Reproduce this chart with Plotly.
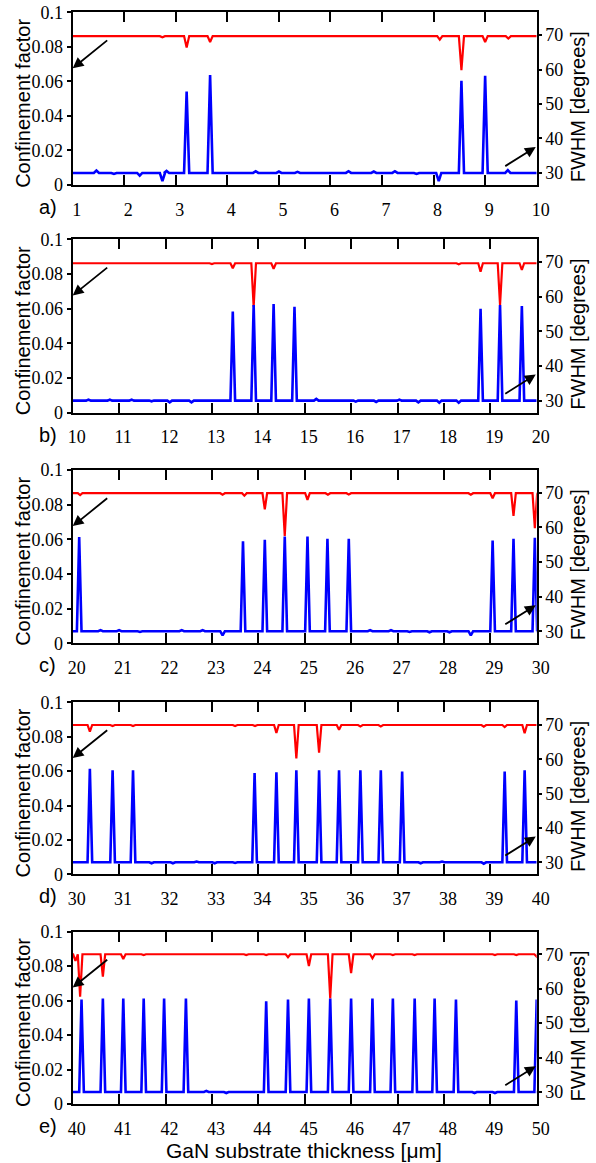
import plotly.graph_objects as go

# ---------------- data ----------------
X_RANGES = [(1, 10), (10, 20), (20, 30), (30, 40), (40, 50)]
PANEL_LABELS = ["a)", "b)", "c)", "d)", "e)"]
CF_TICKS = [0, 0.02, 0.04, 0.06, 0.08, 0.1]
CF_TICKTEXT = ["0", "0.02", "0.04", "0.06", "0.08", "0.1"]
FWHM_TICKS = [30, 40, 50, 60, 70]

CF_BASE = [0.0862, 0.0862, 0.0866, 0.0868, 0.0869]
FWHM_BASE = [30.0, 30.0, 30.0, 30.0, 30.0]

# panel a
A_FWHM_X = [1.46, 1.8, 2.3, 2.74, 2.82, 3.21, 3.665, 4.55, 5.0, 5.36, 6.35, 6.84, 7.25, 7.67, 8.1, 8.54, 9.0, 9.44]
A_FWHM_Y = [30.7, 29.7, 29.2, 27.6, 30.6, 53.6, 58.4, 30.5, 30.4, 30.3, 30.5, 30.4, 30.5, 29.7, 27.6, 56.7, 58.2, 30.8]
A_CF_X = [2.74, 3.21, 3.665, 8.12, 8.54, 9.0, 9.45]
A_CF_Y = [0.0855, 0.0796, 0.0828, 0.0842, 0.0665, 0.0828, 0.0848]

# panel b
B_FWHM_X = [10.34, 10.8, 11.27, 11.7, 12.09, 12.56, 13.45, 13.9, 14.33, 14.78, 15.25, 16.1, 16.54, 17.04, 17.45, 17.9, 18.32, 18.79, 19.21, 19.68]
B_FWHM_Y = [30.3, 30.3, 30.3, 29.8, 29.5, 29.5, 55.7, 57.6, 57.9, 57.1, 30.5, 29.7, 29.6, 30.3, 29.5, 29.4, 29.4, 56.5, 57.6, 57.3]
B_CF_X = [13.0, 13.45, 13.9, 14.33, 18.32, 18.79, 19.21, 19.68]
B_CF_Y = [0.0857, 0.0833, 0.0611, 0.0830, 0.0856, 0.0813, 0.0621, 0.0823]

# panel c
C_FWHM_X = [20.14, 20.6, 21.0, 21.45, 21.88, 22.35, 22.8, 23.23, 23.67, 24.14, 24.57, 25.06, 25.49, 25.95, 26.41, 26.86, 27.26, 27.69, 28.12, 28.58, 29.05, 29.5, 29.96]
C_FWHM_Y = [57.2, 30.3, 30.3, 29.8, 29.8, 30.3, 30.3, 28.8, 56.0, 56.4, 57.4, 57.4, 56.7, 56.7, 30.3, 30.3, 29.8, 29.7, 29.7, 28.8, 56.2, 56.7, 57.0]
C_CF_X = [20.16, 23.23, 23.7, 24.14, 24.57, 25.06, 25.5, 25.95, 28.58, 29.05, 29.5, 29.96]
C_CF_Y = [0.0855, 0.0858, 0.0852, 0.0773, 0.0619, 0.0827, 0.0857, 0.0859, 0.0857, 0.0837, 0.0735, 0.0664]

# panel d
D_FWHM_X = [30.37, 30.86, 31.3, 31.7, 32.16, 32.67, 33.06, 33.5, 33.92, 34.39, 34.82, 35.31, 35.74, 36.2, 36.64, 37.1, 37.5, 37.96, 38.43, 38.86, 39.31, 39.74]
D_FWHM_Y = [57.2, 56.8, 56.8, 29.7, 29.7, 30.2, 29.7, 29.8, 56.0, 56.2, 56.8, 56.8, 56.8, 56.8, 56.8, 56.4, 29.7, 30.2, 30.2, 29.6, 56.4, 56.8]
D_CF_X = [30.37, 30.86, 31.3, 33.5, 33.93, 34.39, 34.82, 35.31, 35.74, 36.2, 36.64, 38.86, 39.31, 39.74]
D_CF_Y = [0.0829, 0.0862, 0.0862, 0.0862, 0.0862, 0.0822, 0.0674, 0.0707, 0.0841, 0.0860, 0.0860, 0.0858, 0.0856, 0.0820]

# panel e
E_FWHM_X = [40.19, 40.65, 41.09, 41.53, 41.97, 42.44, 42.88, 43.31, 43.74, 44.17, 44.64, 45.09, 45.55, 46.0, 46.46, 46.9, 47.37, 47.8, 48.26, 48.66, 49.1, 49.56, 50.0]
E_FWHM_Y = [56.9, 57.2, 57.2, 57.2, 57.2, 57.2, 30.3, 29.7, 30.2, 56.4, 56.9, 57.2, 57.2, 57.2, 57.2, 57.2, 57.2, 57.2, 56.9, 29.7, 29.7, 56.6, 56.9]
E_CF_X = [40.06, 40.16, 40.65, 41.09, 41.53, 43.74, 44.17, 44.64, 45.09, 45.55, 46.0, 46.46, 46.9, 47.37, 49.1, 49.56, 50.0]
E_CF_Y = [0.0830, 0.0623, 0.0739, 0.0841, 0.0864, 0.0864, 0.0864, 0.0852, 0.0801, 0.0613, 0.0759, 0.0846, 0.0864, 0.0864, 0.0864, 0.0864, 0.0855]

FWHM_EVENTS = [(A_FWHM_X, A_FWHM_Y), (B_FWHM_X, B_FWHM_Y), (C_FWHM_X, C_FWHM_Y), (D_FWHM_X, D_FWHM_Y), (E_FWHM_X, E_FWHM_Y)]
CF_EVENTS = [(A_CF_X, A_CF_Y), (B_CF_X, B_CF_Y), (C_CF_X, C_CF_Y), (D_CF_X, D_CF_Y), (E_CF_X, E_CF_Y)]

# ---------------- layout constants (pixels) ----------------
W, H = 596, 1163
PLOT_L, PLOT_R = 72.7, 536.7
PANEL_TOP = [12.3, 239.3, 470.0, 702.3, 931.7]
PANEL_BOT = [185.0, 412.7, 643.3, 874.3, 1104.0]
HW = 0.05  # half width of a spike (x units)


def polyline(x0, x1, base, ex, ey):
    xs, ys = [x0], [base]
    for xe, ye in zip(ex, ey):
        xs += [xe - HW, xe, xe + HW]
        ys += [base, ye, base]
    xs.append(x1)
    ys.append(base)
    return xs, ys


def sid(n):
    return "" if n == 1 else str(n)


SERIF = "Liberation Serif, Times New Roman, Times, serif"
SANS = "Liberation Sans, Arial, sans-serif"

fig = go.Figure()
layout = {}
annotations = []

for i in range(5):
    x0, x1 = X_RANGES[i]
    xn, yl, yr = i + 1, 2 * i + 1, 2 * i + 2
    cx, cy = polyline(x0, x1, CF_BASE[i], *CF_EVENTS[i])
    fx, fy = polyline(x0, x1, FWHM_BASE[i], *FWHM_EVENTS[i])
    fig.add_trace(go.Scatter(x=cx, y=cy, mode="lines", xaxis="x" + sid(xn), yaxis="y" + sid(yl),
                             line=dict(color="#ff0000", width=2.2), showlegend=False, hoverinfo="skip"))
    fig.add_trace(go.Scatter(x=fx, y=fy, mode="lines", xaxis="x" + sid(xn), yaxis="y" + sid(yr),
                             line=dict(color="#0000ff", width=2.6), showlegend=False, hoverinfo="skip"))

    yd = [1 - PANEL_BOT[i] / H, 1 - PANEL_TOP[i] / H]
    layout["xaxis" + sid(xn)] = dict(
        domain=[PLOT_L / W, PLOT_R / W], anchor="y" + sid(yl), range=[x0, x1],
        tickvals=list(range(x0, x1 + 1)), ticks="inside", ticklen=10, tickwidth=2, tickcolor="black",
        showline=True, linewidth=2, linecolor="black", mirror="ticks", showgrid=False, zeroline=False,
        tickfont=dict(family=SERIF, size=18, color="black"), ticklabelstandoff=7, ticklabelshift=4,
        automargin=False,
    )
    layout["yaxis" + sid(yl)] = dict(
        domain=yd, anchor="x" + sid(xn), range=[0, 0.1], tickvals=CF_TICKS, ticktext=CF_TICKTEXT,
        ticks="outside", ticklen=4, tickwidth=2, tickcolor="black",
        showline=True, linewidth=2, linecolor="black", mirror=True, showgrid=False, zeroline=False,
        tickfont=dict(family=SERIF, size=18, color="black"), ticklabelstandoff=0, automargin=False,
    )
    layout["yaxis" + sid(yr)] = dict(
        overlaying="y" + sid(yl), side="right", anchor="x" + sid(xn), range=[26.5, 76.6],
        tickvals=FWHM_TICKS, ticks="outside", ticklen=4, tickwidth=2, tickcolor="black",
        showline=False, showgrid=False, zeroline=False,
        tickfont=dict(family=SERIF, size=18, color="black"), ticklabelstandoff=0, automargin=False,
    )

    yl_dom = "y" + sid(yl) + " domain"
    xdom = "x" + sid(xn) + " domain"
    annotations.append(dict(text=PANEL_LABELS[i], xref="paper", x=47.5 / W, yref=yl_dom, y=0, yshift=-22,
                            xanchor="center", yanchor="middle",
                            showarrow=False, font=dict(family=SANS, size=20, color="black")))
    annotations.append(dict(text="Confinement factor", xref="paper", x=23 / W, yref=yl_dom, y=0.47,
                            xanchor="center", yanchor="middle",
                            textangle=-90, showarrow=False, font=dict(family=SANS, size=20, color="black")))
    annotations.append(dict(text="FWHM [degrees]", xref="paper", x=578 / W, yref=yl_dom, y=0.45,
                            xanchor="center", yanchor="middle",
                            textangle=-90, showarrow=False, font=dict(family=SANS, size=20, color="black")))
    # arrows pointing to the relevant axis
    annotations.append(dict(text="", xref=xdom, x=0, yref=yl_dom, y=1 - 56 / 173, ax=36, ay=-29,
                            showarrow=True, arrowhead=2, arrowsize=1.2, arrowwidth=1.8, arrowcolor="black"))
    annotations.append(dict(text="", xref=xdom, x=0.998, yref=yl_dom, y=1 - 135 / 173, ax=-32, ay=20,
                            showarrow=True, arrowhead=2, arrowsize=1.2, arrowwidth=1.8, arrowcolor="black"))

annotations.append(dict(text="GaN substrate thickness [\u03bcm]", xref="paper", x=304 / W, yref="paper",
                        y=1 - 1150 / H, xanchor="center", yanchor="middle",
                        showarrow=False, font=dict(family=SANS, size=21, color="black")))

fig.update_layout(
    width=W, height=H, margin=dict(l=0, r=0, t=0, b=0, pad=0), autosize=False,
    paper_bgcolor="white", plot_bgcolor="white", showlegend=False,
    annotations=annotations, **layout,
)

fig.write_html("out.html", config={"responsive": False},
               post_script="document.body.style.margin='0';document.body.style.overflow='hidden';")
